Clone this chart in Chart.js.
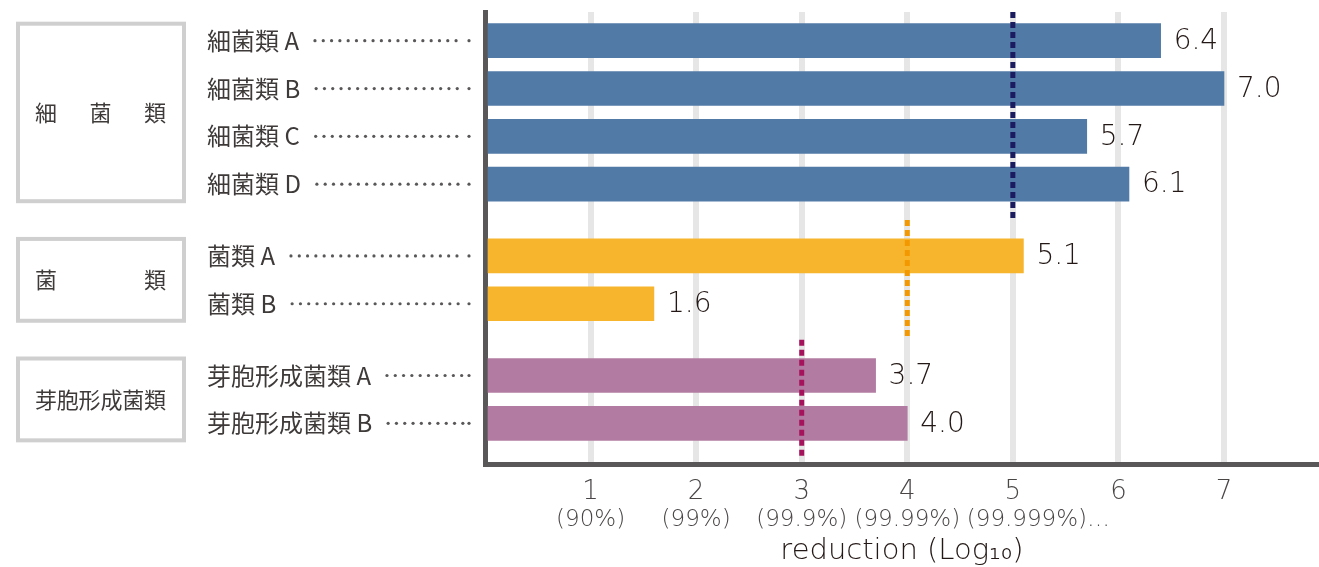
<!DOCTYPE html>
<html>
<head>
<meta charset="utf-8">
<script src="https://cdn.jsdelivr.net/npm/chart.js@4"></script>
<style>
  html, body { margin: 0; padding: 0; background: #fff; }
  #wrap { width: 1319px; height: 567px; position: relative; }
</style>
</head>
<body>
<div id="wrap"><canvas id="chart"></canvas></div>
<script>
const categories = ['細菌類 A', '細菌類 B', '細菌類 C', '細菌類 D', '菌類 A', '菌類 B', '芽胞形成菌類 A', '芽胞形成菌類 B'];
const reductions = [6.4, 7.0, 5.7, 6.1, 5.1, 1.6, 3.7, 4.0];
const groupOf = [0, 0, 0, 0, 1, 1, 2, 2];
const groupNames = ['細菌類', '菌類', '芽胞形成菌類'];
const thresholds = [5, 4, 3];
const xTicks = [0, 1, 2, 3, 4, 5, 6, 7];
// the last percentage carries a trailing ellipsis, so it sits right of its tick
const pctLabels = ['', '(90%)', '(99%)', '(99.9%)', '(99.99%)', '       (99.999%)…', '', ''];

const barColors = ['#527aa7', '#f6b52d', '#b27ca2'];
const lineColors = ['#1b1c5f', '#f39800', '#a5135d'];
const FONT = '"Noto Sans CJK JP", "Noto Sans", sans-serif';
const NUMFONT = '"DejaVu Sans", sans-serif';
const TEXT = '#3e3a39';
const AXIS = '#595757';

// row slot: half a row of space between groups
const rowPos = categories.map((c, i) => i + 0.5 * groupOf[i]);

const groupRange = (g) => {
  const p = rowPos.filter((v, i) => groupOf[i] === g);
  return [Math.min(...p), Math.max(...p)];
};

const overlay = {
  id: 'overlay',
  afterDatasetsDraw(chart) {
    const { ctx, chartArea, scales: { x, y } } = chart;

    // group reference lines
    groupNames.forEach((name, g) => {
      const [first, last] = groupRange(g);
      const top = Math.max(chartArea.top, y.getPixelForValue(first - 0.75));
      const bottom = Math.min(chartArea.bottom - 2, y.getPixelForValue(last + 0.75));
      const px = x.getPixelForValue(thresholds[g]);
      ctx.save();
      ctx.strokeStyle = lineColors[g];
      ctx.lineWidth = 5;
      ctx.setLineDash([6, 4]);
      ctx.beginPath();
      ctx.moveTo(px, top);
      ctx.lineTo(px, bottom);
      ctx.stroke();
      ctx.restore();
    });

    // value labels
    ctx.save();
    ctx.font = `200 28px ${NUMFONT}`;
    ctx.fillStyle = '#231815';
    ctx.textAlign = 'left';
    ctx.textBaseline = 'middle';
    chart.getDatasetMeta(0).data.forEach((bar, i) => {
      ctx.fillText(reductions[i].toFixed(1), bar.x + 13, bar.y + 1);
    });
    ctx.restore();
  },
  afterDraw(chart) {
    const { ctx, scales: { y } } = chart;

    // dotted leaders after the category labels
    ctx.save();
    ctx.font = `24px ${FONT}`;
    ctx.fillStyle = AXIS;
    categories.forEach((c, i) => {
      const py = y.getPixelForValue(rowPos[i]);
      const w = ctx.measureText(c).width;
      let dx = y.left + w + 16;
      while (dx < 463) {
        ctx.beginPath();
        ctx.arc(dx, py, 1.6, 0, Math.PI * 2);
        ctx.fill();
        dx += 8.3;
      }
      ctx.beginPath();
      ctx.arc(469, py, 1.6, 0, Math.PI * 2);
      ctx.fill();
    });
    ctx.restore();

    // group boxes
    groupNames.forEach((name, g) => {
      const [first, last] = groupRange(g);
      const top = y.getPixelForValue(first) - 17;
      const bottom = y.getPixelForValue(last) + 17;
      ctx.save();
      ctx.strokeStyle = '#cfcfcf';
      ctx.lineWidth = 4;
      ctx.strokeRect(18, top, 166, bottom - top);

      ctx.font = `22px ${FONT}`;
      ctx.fillStyle = TEXT;
      ctx.textAlign = 'left';
      ctx.textBaseline = 'middle';
      const chars = [...name];
      const cw = ctx.measureText(chars[0]).width;
      const left = 35, right = 166;
      const step = chars.length > 1 ? (right - left - cw) / (chars.length - 1) : 0;
      chars.forEach((ch, k) => ctx.fillText(ch, left + k * step, (top + bottom) / 2));
      ctx.restore();
    });
  }
};

new Chart(document.getElementById('chart'), {
  type: 'bar',
  data: {
    datasets: [{
      data: reductions.map((v, i) => ({ x: v, y: rowPos[i] })),
      backgroundColor: groupOf.map((g) => barColors[g]),
      barThickness: 34,
    }],
  },
  options: {
    indexAxis: 'y',
    responsive: true,
    maintainAspectRatio: false,
    animation: false,
    layout: { padding: { left: 207, top: 12, right: 0, bottom: 0 } },
    plugins: {
      legend: { display: false },
      tooltip: { enabled: false },
    },
    scales: {
      y: {
        type: 'linear',
        reverse: true,
        offset: false,
        min: -0.6,
        max: 8.85,
        afterBuildTicks: (axis) => { axis.ticks = rowPos.map((v) => ({ value: v })); },
        afterFit: (axis) => {
          axis.width = 278;
          axis.paddingTop = 0;
          axis.paddingBottom = 0;
        },
        ticks: {
          autoSkip: false,
          crossAlign: 'far',
          color: TEXT,
          font: { family: FONT, size: 24 },
          callback: (v) => categories[rowPos.indexOf(v)],
        },
        grid: { display: false, offset: false },
        border: { display: true, color: AXIS, width: 5 },
      },
      x: {
        type: 'linear',
        min: 0,
        max: 7.9,
        weight: 0,
        afterBuildTicks: (axis) => { axis.ticks = xTicks.map((v) => ({ value: v })); },
        afterFit: (axis) => {
          axis.height = 40;
          axis.paddingLeft = 0;
          axis.paddingRight = 0;
        },
        ticks: {
          autoSkip: false,
          padding: 13,
          color: '#4a4646',
          font: { family: NUMFONT, size: 26, weight: 200, lineHeight: 1.2 },
          maxRotation: 0,
          callback: (v) => (v === 0 ? '' : String(v)),
        },
        grid: {
          drawTicks: false,
          lineWidth: 6,
          color: (c) => (c.tick && c.tick.value === 0 ? 'rgba(0,0,0,0)' : '#e6e6e6'),
        },
        border: { display: true, color: AXIS, width: 5 },
      },
      x2: {
        type: 'linear',
        axis: 'x',
        position: 'bottom',
        min: 0,
        max: 7.9,
        weight: 1,
        afterBuildTicks: (axis) => { axis.ticks = xTicks.map((v) => ({ value: v })); },
        afterFit: (axis) => {
          axis.height = 63;
          axis.paddingLeft = 0;
          axis.paddingRight = 0;
        },
        ticks: {
          autoSkip: false,
          padding: 2,
          color: '#4a4646',
          font: { family: NUMFONT, size: 23, weight: 200, lineHeight: 1.2 },
          maxRotation: 0,
          callback: (v) => pctLabels[xTicks.indexOf(v)],
        },
        grid: { display: false, drawTicks: false },
        border: { display: false },
        title: {
          display: true,
          text: 'reduction (Log₁₀)',
          color: '#231815',
          font: { family: NUMFONT, size: 29, weight: 200, lineHeight: 1.1 },
          padding: { top: 0, bottom: 0 },
        },
      },
    },
  },
  plugins: [overlay],
});
</script>
</body>
</html>
